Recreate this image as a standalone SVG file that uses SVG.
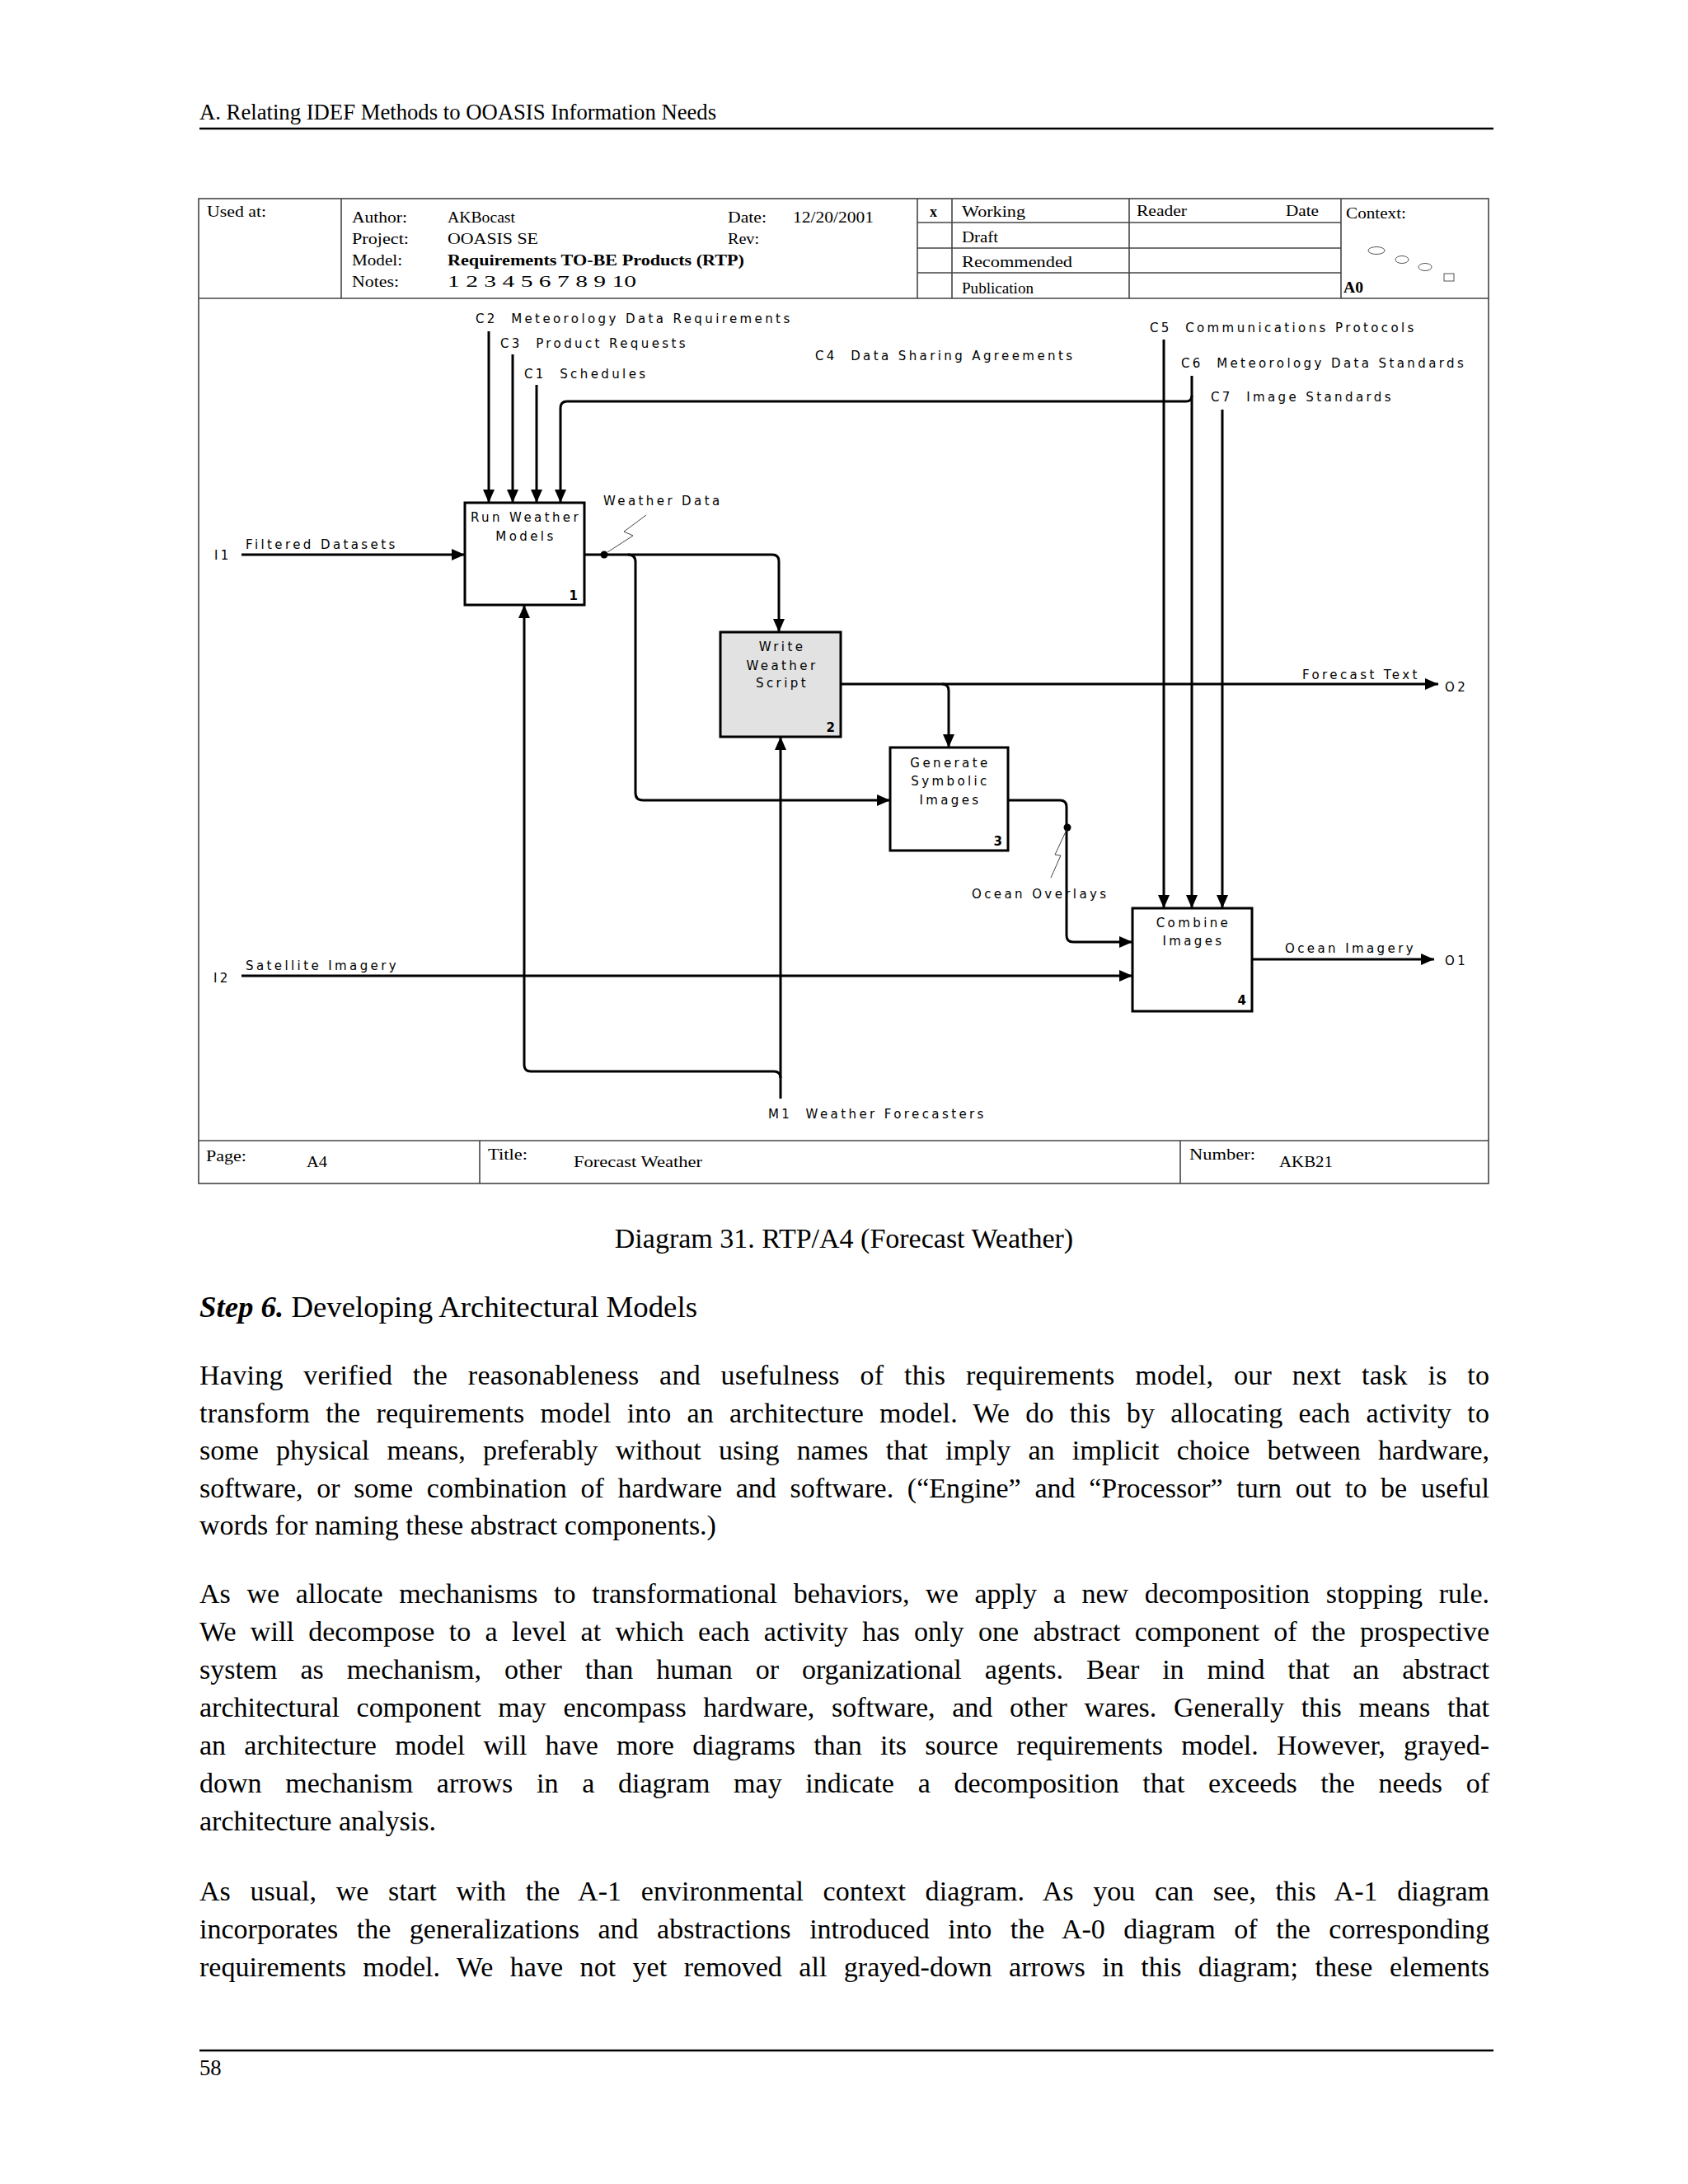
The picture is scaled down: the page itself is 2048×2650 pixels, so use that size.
<svg xmlns="http://www.w3.org/2000/svg" width="2048" height="2650" viewBox="0 0 2048 2650">
<defs>
<marker id="ah" markerUnits="userSpaceOnUse" markerWidth="18" markerHeight="16" refX="16" refY="7" orient="auto">
<path d="M0,0 L16,7 L0,14 z" fill="#000"/>
</marker>
<style>
.pg{font-family:"Liberation Serif","Times New Roman",serif;fill:#000}
.hdr{font-size:26.7px}
.body{font-size:34px}
.head{font-size:36.8px}
.tb{font-family:"Liberation Serif","Times New Roman",serif;font-size:18px;fill:#000}
.tbb{font-weight:bold}
.fr{fill:none;stroke:#444;stroke-width:1.6}
.conn{fill:none;stroke:#000;stroke-width:3}
.thin{fill:none;stroke:#444;stroke-width:1}
.box{fill:#fff;stroke:#000;stroke-width:3}
.gbox{fill:#e2e2e2;stroke:#000;stroke-width:3}
.lbl{font-family:"DejaVu Sans",Verdana,sans-serif;font-size:15px;letter-spacing:3.4px;fill:#000;white-space:pre}
.num{font-family:"DejaVu Sans",Verdana,sans-serif;font-size:15px;font-weight:bold;fill:#000}
.mid{text-anchor:middle}
</style>
</defs>
<rect width="2048" height="2650" fill="#fff"/>

<!-- page header -->
<text class="pg hdr" x="242" y="145">A. Relating IDEF Methods to OOASIS Information Needs</text>
<line x1="242" y1="156" x2="1812" y2="156" stroke="#000" stroke-width="2.5"/>

<!-- diagram frame -->
<g id="frame">
<rect class="fr" x="241" y="241" width="1565" height="1195"/>
<line class="fr" x1="241" y1="362" x2="1806" y2="362"/>
<line class="fr" x1="414" y1="241" x2="414" y2="362"/>
<line class="fr" x1="1113" y1="241" x2="1113" y2="362"/>
<line class="fr" x1="1155" y1="241" x2="1155" y2="362"/>
<line class="fr" x1="1370" y1="241" x2="1370" y2="362"/>
<line class="fr" x1="1627" y1="241" x2="1627" y2="362"/>
<line class="fr" x1="1113" y1="270" x2="1627" y2="270"/>
<line class="fr" x1="1113" y1="301" x2="1627" y2="301"/>
<line class="fr" x1="1113" y1="331" x2="1627" y2="331"/>
<line class="fr" x1="241" y1="1384" x2="1806" y2="1384"/>
<line class="fr" x1="582" y1="1384" x2="582" y2="1436"/>
<line class="fr" x1="1432" y1="1384" x2="1432" y2="1436"/>
</g>

<g id="titleblock">
<text class="tb" x="251" y="263" textLength="72" lengthAdjust="spacingAndGlyphs">Used at:</text>
<text class="tb" x="427" y="270" textLength="67" lengthAdjust="spacingAndGlyphs">Author:</text>
<text class="tb" x="427" y="296" textLength="69" lengthAdjust="spacingAndGlyphs">Project:</text>
<text class="tb" x="427" y="322" textLength="61" lengthAdjust="spacingAndGlyphs">Model:</text>
<text class="tb" x="427" y="348" textLength="57" lengthAdjust="spacingAndGlyphs">Notes:</text>
<text class="tb" x="543" y="270" textLength="82" lengthAdjust="spacingAndGlyphs">AKBocast</text>
<text class="tb" x="543" y="296" textLength="110" lengthAdjust="spacingAndGlyphs">OOASIS SE</text>
<text class="tb tbb" x="543" y="322" textLength="360" lengthAdjust="spacingAndGlyphs">Requirements TO-BE Products (RTP)</text>
<text class="tb" x="543" y="348" textLength="229" lengthAdjust="spacingAndGlyphs">1  2  3  4  5  6  7  8  9  10</text>
<text class="tb" x="883" y="270" textLength="47" lengthAdjust="spacingAndGlyphs">Date:</text>
<text class="tb" x="962" y="270" textLength="98" lengthAdjust="spacingAndGlyphs">12/20/2001</text>
<text class="tb" x="883" y="296" textLength="38" lengthAdjust="spacingAndGlyphs">Rev:</text>
<text class="tb tbb" x="1128" y="263">x</text>
<text class="tb" x="1167" y="263" textLength="77" lengthAdjust="spacingAndGlyphs">Working</text>
<text class="tb" x="1167" y="294" textLength="44" lengthAdjust="spacingAndGlyphs">Draft</text>
<text class="tb" x="1167" y="324" textLength="134" lengthAdjust="spacingAndGlyphs">Recommended</text>
<text class="tb" x="1167" y="356" textLength="87" lengthAdjust="spacingAndGlyphs">Publication</text>
<text class="tb" x="1379" y="262" textLength="61" lengthAdjust="spacingAndGlyphs">Reader</text>
<text class="tb" x="1560" y="262" textLength="40" lengthAdjust="spacingAndGlyphs">Date</text>
<text class="tb" x="1633" y="265" textLength="73" lengthAdjust="spacingAndGlyphs">Context:</text>
<text class="tb tbb" x="1630" y="355" textLength="24" lengthAdjust="spacingAndGlyphs">A0</text>
<ellipse cx="1670" cy="304" rx="10" ry="4.5" fill="none" stroke="#555" stroke-width="1"/>
<ellipse cx="1701" cy="315" rx="8" ry="4.5" fill="none" stroke="#555" stroke-width="1"/>
<ellipse cx="1729" cy="324" rx="8" ry="4.5" fill="none" stroke="#555" stroke-width="1"/>
<rect x="1752" y="332" width="12" height="9" fill="none" stroke="#555" stroke-width="1"/>
<text class="tb" x="250" y="1409" textLength="49" lengthAdjust="spacingAndGlyphs">Page:</text>
<text class="tb" x="372" y="1416" textLength="25" lengthAdjust="spacingAndGlyphs">A4</text>
<text class="tb" x="592" y="1407" textLength="48" lengthAdjust="spacingAndGlyphs">Title:</text>
<text class="tb" x="696" y="1416" textLength="156" lengthAdjust="spacingAndGlyphs">Forecast Weather</text>
<text class="tb" x="1443" y="1407" textLength="80" lengthAdjust="spacingAndGlyphs">Number:</text>
<text class="tb" x="1552" y="1416" textLength="65" lengthAdjust="spacingAndGlyphs">AKB21</text>
</g>

<!-- connectors -->
<g id="connectors">
<path class="conn" d="M293,673 L564,673" marker-end="url(#ah)"/>
<path class="conn" d="M293,1184 L1374,1184" marker-end="url(#ah)"/>
<path class="conn" d="M593,402 L593,610" marker-end="url(#ah)"/>
<path class="conn" d="M622,430 L622,610" marker-end="url(#ah)"/>
<path class="conn" d="M651,467 L651,610" marker-end="url(#ah)"/>
<path class="conn" d="M1446,480 Q1446,487 1439,487 L688,487 Q680,487 680,495 L680,610" marker-end="url(#ah)"/>
<path class="conn" d="M1412,412 L1412,1102" marker-end="url(#ah)"/>
<path class="conn" d="M1446,456 L1446,1102" marker-end="url(#ah)"/>
<path class="conn" d="M1483,497 L1483,1102" marker-end="url(#ah)"/>
<path class="conn" d="M709,673 L937,673 Q945,673 945,681 L945,767" marker-end="url(#ah)"/>
<path class="conn" d="M762,673 Q771,673 771,682 L771,962 Q771,971 780,971 L1080,971" marker-end="url(#ah)"/>
<path class="conn" d="M1020,830 L1745,830" marker-end="url(#ah)"/>
<path class="conn" d="M1143,830 Q1151,830 1151,838 L1151,907" marker-end="url(#ah)"/>
<path class="conn" d="M1223,971 L1286,971 Q1294,971 1294,979 L1294,1135 Q1294,1143 1302,1143 L1374,1143" marker-end="url(#ah)"/>
<path class="conn" d="M1519,1164 L1740,1164" marker-end="url(#ah)"/>
<path class="conn" d="M947,1333 L947,894" marker-end="url(#ah)"/>
<path class="conn" d="M947,1308 Q947,1300 939,1300 L644,1300 Q636,1300 636,1292 L636,734" marker-end="url(#ah)"/>
<circle cx="733" cy="673" r="4.5" fill="#000"/>
<circle cx="1295" cy="1004" r="4.5" fill="#000"/>
<polyline class="thin" points="737,670 768,650 757,645 784,625"/>
<polyline class="thin" points="1294,1007 1280,1037 1287,1038 1275,1065"/>
</g>

<!-- labels -->
<g id="labels">
<text class="lbl" x="577" y="392">C2  Meteorology Data Requirements</text>
<text class="lbl" x="607" y="422">C3  Product Requests</text>
<text class="lbl" x="636" y="459">C1  Schedules</text>
<text class="lbl" x="989" y="437">C4  Data Sharing Agreements</text>
<text class="lbl" x="1395" y="403">C5  Communications Protocols</text>
<text class="lbl" x="1433" y="446">C6  Meteorology Data Standards</text>
<text class="lbl" x="1469" y="487">C7  Image Standards</text>
<text class="lbl" x="732" y="613">Weather Data</text>
<text class="lbl" x="260" y="679">I1</text>
<text class="lbl" x="298" y="666">Filtered Datasets</text>
<text class="lbl" x="259" y="1192">I2</text>
<text class="lbl" x="298" y="1177">Satellite Imagery</text>
<text class="lbl" x="1580" y="824">Forecast Text</text>
<text class="lbl" x="1753" y="839">O2</text>
<text class="lbl" x="1559" y="1156">Ocean Imagery</text>
<text class="lbl" x="1753" y="1171">O1</text>
<text class="lbl" x="1179" y="1090">Ocean Overlays</text>
<text class="lbl" x="932" y="1357">M1  Weather Forecasters</text>
</g>

<!-- nodes -->
<g id="node1">
<rect class="box" x="564" y="610" width="145" height="124"/>
<text class="lbl mid" x="638" y="633">Run Weather</text>
<text class="lbl mid" x="638" y="656">Models</text>
<text class="num" x="701" y="728" text-anchor="end">1</text>
</g>
<g id="node2">
<rect class="gbox" x="874" y="767" width="146" height="127"/>
<text class="lbl mid" x="949" y="790">Write</text>
<text class="lbl mid" x="949" y="813">Weather</text>
<text class="lbl mid" x="949" y="834">Script</text>
<text class="num" x="1013" y="888" text-anchor="end">2</text>
</g>
<g id="node3">
<rect class="box" x="1080" y="907" width="143" height="125"/>
<text class="lbl mid" x="1153" y="931">Generate</text>
<text class="lbl mid" x="1153" y="953">Symbolic</text>
<text class="lbl mid" x="1153" y="976">Images</text>
<text class="num" x="1216" y="1026" text-anchor="end">3</text>
</g>
<g id="node4">
<rect class="box" x="1374" y="1102" width="145" height="125"/>
<text class="lbl mid" x="1448" y="1125">Combine</text>
<text class="lbl mid" x="1448" y="1147">Images</text>
<text class="num" x="1512" y="1219" text-anchor="end">4</text>
</g>

<!-- page body -->
<text class="pg body" x="1024" y="1514" text-anchor="middle">Diagram 31. RTP/A4 (Forecast Weather)</text>
<text class="pg head" x="242" y="1598"><tspan font-weight="bold" font-style="italic">Step 6.</tspan> Developing Architectural Models</text>

<text class="pg body" x="242" y="1680" word-spacing="15.9" textLength="1565" lengthAdjust="spacing">Having verified the reasonableness and usefulness of this requirements model, our next task is to</text>
<text class="pg body" x="242" y="1726" word-spacing="10.3" textLength="1565" lengthAdjust="spacing">transform the requirements model into an architecture model. We do this by allocating each activity to</text>
<text class="pg body" x="242" y="1771" word-spacing="12.7" textLength="1565" lengthAdjust="spacing">some physical means, preferably without using names that imply an implicit choice between hardware,</text>
<text class="pg body" x="242" y="1817" word-spacing="8.2" textLength="1565" lengthAdjust="spacing">software, or some combination of hardware and software. (“Engine” and “Processor” turn out to be useful</text>
<text class="pg body" x="242" y="1862">words for naming these abstract components.)</text>

<text class="pg body" x="242" y="1945" word-spacing="11.2" textLength="1565" lengthAdjust="spacing">As we allocate mechanisms to transformational behaviors, we apply a new decomposition stopping rule.</text>
<text class="pg body" x="242" y="1991" word-spacing="8.8" textLength="1565" lengthAdjust="spacing">We will decompose to a level at which each activity has only one abstract component of the prospective</text>
<text class="pg body" x="242" y="2037" word-spacing="19.4" textLength="1565" lengthAdjust="spacing">system as mechanism, other than human or organizational agents. Bear in mind that an abstract</text>
<text class="pg body" x="242" y="2083" word-spacing="12.2" textLength="1565" lengthAdjust="spacing">architectural component may encompass hardware, software, and other wares. Generally this means that</text>
<text class="pg body" x="242" y="2129" word-spacing="13.7" textLength="1565" lengthAdjust="spacing">an architecture model will have more diagrams than its source requirements model. However, grayed-</text>
<text class="pg body" x="242" y="2175" word-spacing="20.2" textLength="1565" lengthAdjust="spacing">down mechanism arrows in a diagram may indicate a decomposition that exceeds the needs of</text>
<text class="pg body" x="242" y="2221">architecture analysis.</text>

<text class="pg body" x="242" y="2306" word-spacing="15.0" textLength="1565" lengthAdjust="spacing">As usual, we start with the A-1 environmental context diagram. As you can see, this A-1 diagram</text>
<text class="pg body" x="242" y="2352" word-spacing="14.0" textLength="1565" lengthAdjust="spacing">incorporates the generalizations and abstractions introduced into the A-0 diagram of the corresponding</text>
<text class="pg body" x="242" y="2398" word-spacing="11.9" textLength="1565" lengthAdjust="spacing">requirements model. We have not yet removed all grayed-down arrows in this diagram; these elements</text>

<line x1="242" y1="2488" x2="1812" y2="2488" stroke="#000" stroke-width="2.5"/>
<text class="pg hdr" x="242" y="2518">58</text>
</svg>
